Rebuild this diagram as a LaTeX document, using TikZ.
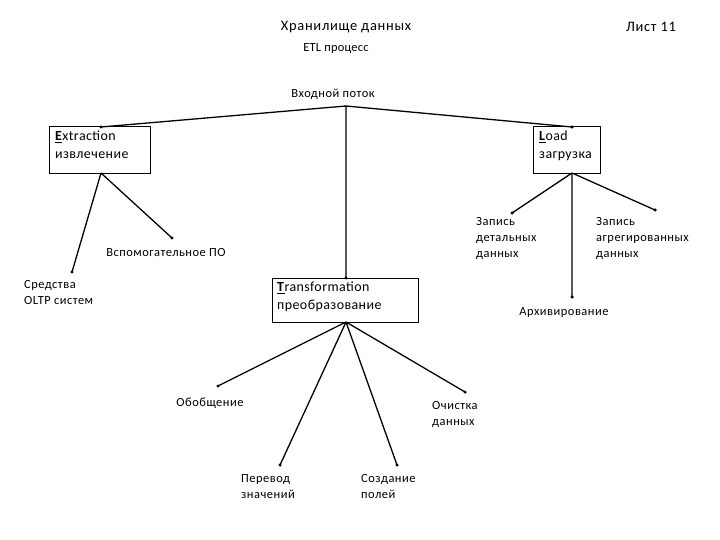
\documentclass[tikz,border=0pt]{standalone}
\usepackage{fontspec}
\setmainfont{Carlito}
\begin{document}
\begin{tikzpicture}[x=1bp,y=-1bp,
  lbl/.style={inner sep=0pt,align=left,font=\fontsize{12.5}{16}\selectfont\addfontfeatures{LetterSpace=4}},
  bx/.style={inner sep=0pt,align=left,anchor=north west,font=\fontsize{14}{18}\selectfont\addfontfeatures{LetterSpace=3}},
  ln/.style={line width=1.3pt},
  dot/.style={circle,fill,inner sep=0pt,minimum size=3.5pt}]
\useasboundingbox (0,0) rectangle (720,540);
\node[font=\fontsize{14.5}{16}\selectfont\addfontfeatures{LetterSpace=5}] (t1) at (346,27) {Хранилище данных};
\node[font=\fontsize{14.5}{16}\selectfont\addfontfeatures{LetterSpace=5}] (t2) at (651,27) {Лист 11};
\node[font=\fontsize{12.5}{14}\selectfont\addfontfeatures{LetterSpace=2}] (t3) at (336,49) {ETL процесс};
\node[lbl] (in) at (333,94) {Входной поток};
\coordinate (j) at (346,106);
% boxes
\draw[line width=1pt] (49,127) rectangle (150,173);
\node[bx] (ex) at (55,131) {\underline{\textbf{E}}xtraction\\извлечение};
\coordinate (exT) at (101,127); \coordinate (exB) at (101,173);
\draw[line width=1pt] (533,127) rectangle (600,173);
\node[bx] (ld) at (539,131) {\underline{\textbf{L}}oad\\загрузка};
\coordinate (ldT) at (572,127); \coordinate (ldB) at (572,173);
\draw[line width=1pt] (272,278) rectangle (418,322);
\node[bx] (tr) at (277,282) {\underline{\textbf{T}}ransformation\\преобразование};
\coordinate (trT) at (346,278); \coordinate (trB) at (346,322);
% endpoints
\node[dot] (e1) at (72,272) {};
\node[dot] (e2) at (172,238) {};
\node[dot] (l1) at (512,213) {};
\node[dot] (l2) at (572,297) {};
\node[dot] (l3) at (655,210) {};
\node[dot] (t1d) at (218,386) {};
\node[dot] (t2d) at (280,465) {};
\node[dot] (t3d) at (397,465) {};
\node[dot] (t4d) at (465,392) {};
\node[dot] (ed) at (exT) {};
\node[dot] (lt) at (ldT) {};
\node[dot] (tt) at (trT) {};
\draw[ln] (j) -- (ed.center) (j) -- (lt.center) (j) -- (tt.center);
\draw[ln] (exB) -- (e1.center) (exB) -- (e2.center);
\draw[ln] (ldB) -- (l1.center) (ldB) -- (l2.center) (ldB) -- (l3.center);
\draw[ln] (trB) -- (t1d.center) (trB) -- (t2d.center) (trB) -- (t3d.center) (trB) -- (t4d.center);
% labels
\node[lbl] (a1) at (166,253) {Вспомогательное ПО};
\node[lbl,anchor=north west] (a2) at (24,280) {Средства\\OLTP систем};
\node[lbl,anchor=north west] (a3) at (476,217) {Запись\\детальных\\данных};
\node[lbl,anchor=north west] (a4) at (596,217) {Запись\\агрегированных\\данных};
\node[lbl] (a5) at (564,313) {Архивирование};
\node[lbl] (a6) at (210,403) {Обобщение};
\node[lbl,anchor=north west] (a7) at (432,401) {Очистка\\данных};
\node[lbl,anchor=north west] (a8) at (241,474) {Перевод\\значений};
\node[lbl,anchor=north west] (a9) at (361,474) {Создание\\полей};
\end{tikzpicture}
\end{document}
